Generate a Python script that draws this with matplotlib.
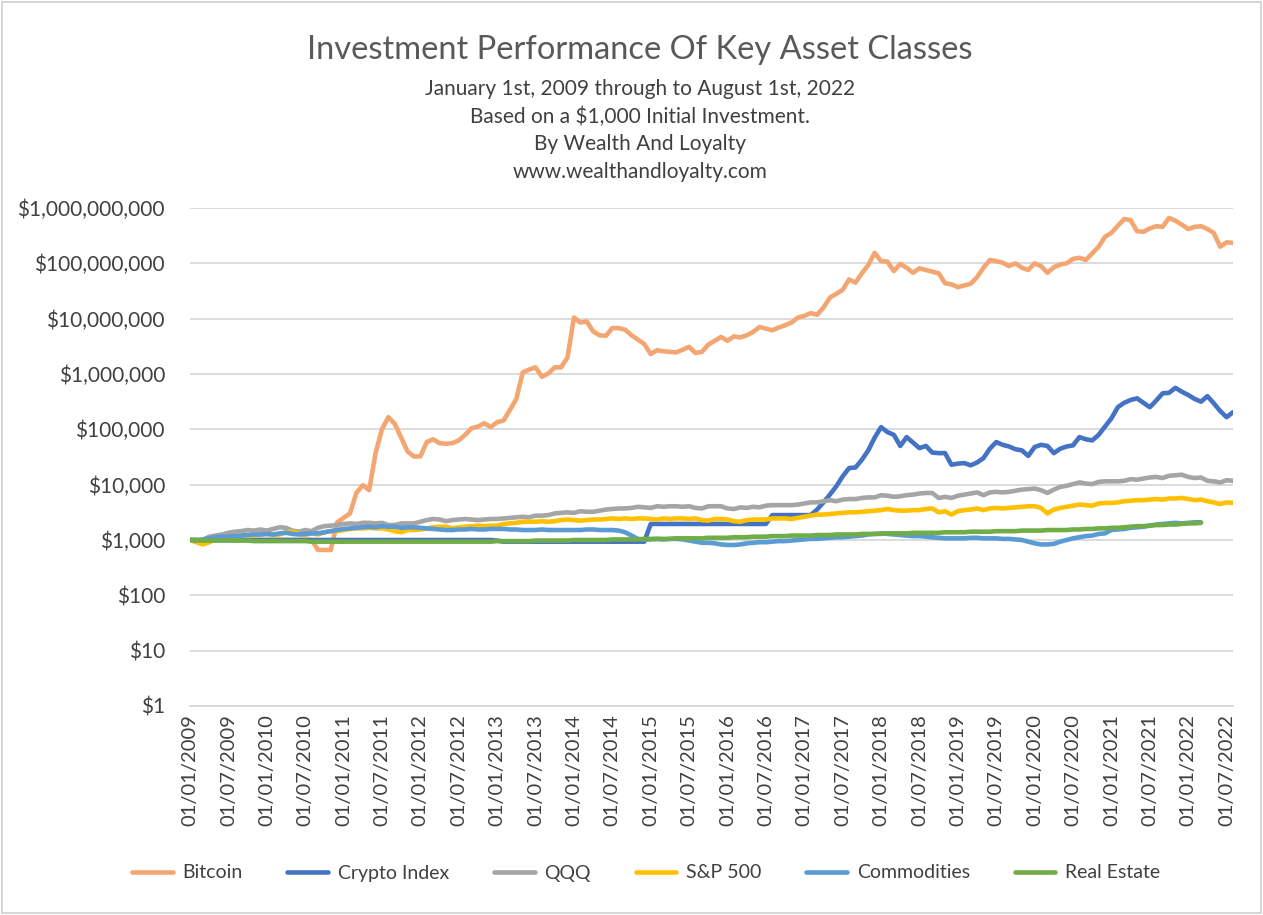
import numpy as np
import matplotlib
matplotlib.use("Agg")
import matplotlib.pyplot as plt
from matplotlib.patches import Rectangle

plt.rcParams['font.family'] = ['Lato', 'DejaVu Sans']

# ---- data (log10 of portfolio value in $, monthly from Jan 2009) ----
bitcoin_log10 = [
    3.00, 3.00, 3.00, 3.00, 3.00, 3.00, 3.00, 3.00, 3.00, 3.00, 3.00, 3.00,
    3.00, 3.00, 3.00, 3.00, 3.00, 3.00, 3.00, 3.00, 2.82, 2.82, 2.82, 3.32,
    3.40, 3.48, 3.85, 3.99, 3.90, 4.57, 5.00, 5.22, 5.10, 4.85, 4.60, 4.51,
    4.51, 4.77, 4.82, 4.75, 4.74, 4.75, 4.80, 4.90, 5.02, 5.05, 5.11, 5.04,
    5.13, 5.16, 5.35, 5.55, 6.03, 6.08, 6.12, 5.95, 6.01, 6.12, 6.12, 6.30,
    7.02, 6.93, 6.95, 6.77, 6.70, 6.69, 6.83, 6.83, 6.80, 6.70, 6.62, 6.54,
    6.36, 6.43, 6.41, 6.40, 6.39, 6.44, 6.49, 6.38, 6.40, 6.53, 6.60, 6.67,
    6.60, 6.68, 6.66, 6.70, 6.76, 6.85, 6.82, 6.79, 6.84, 6.88, 6.93, 7.02,
    7.05, 7.10, 7.07, 7.20, 7.38, 7.45, 7.52, 7.71, 7.65, 7.82, 7.97, 8.19,
    8.04, 8.03, 7.86, 7.99, 7.92, 7.83, 7.91, 7.88, 7.85, 7.82, 7.64, 7.62,
    7.57, 7.60, 7.63, 7.75, 7.92, 8.06, 8.04, 8.01, 7.95, 8.00, 7.92, 7.88,
    8.00, 7.95, 7.83, 7.93, 7.98, 8.00, 8.08, 8.10, 8.06, 8.18, 8.30, 8.48,
    8.55, 8.68, 8.80, 8.78, 8.58, 8.57, 8.63, 8.67, 8.66, 8.82, 8.77, 8.70,
    8.62, 8.66, 8.67, 8.62, 8.55, 8.30, 8.38, 8.37,
]

crypto_index_log10 = [
    3.00, 3.00, 3.00, 3.00, 3.00, 3.00, 3.00, 3.00, 3.00, 3.00, 3.00, 3.00,
    3.00, 3.00, 3.00, 3.00, 3.00, 3.00, 3.00, 3.00, 3.00, 3.00, 3.00, 3.00,
    3.00, 3.00, 3.00, 3.00, 3.00, 3.00, 3.00, 3.00, 3.00, 3.00, 3.00, 3.00,
    3.00, 3.00, 3.00, 3.00, 3.00, 3.00, 3.00, 3.00, 3.00, 3.00, 3.00, 3.00,
    2.99, 2.97, 2.97, 2.97, 2.97, 2.97, 2.97, 2.97, 2.97, 2.97, 2.97, 2.97,
    2.97, 2.97, 2.97, 2.97, 2.97, 2.97, 2.97, 2.97, 2.97, 2.97, 2.97, 2.97,
    3.29, 3.29, 3.29, 3.29, 3.29, 3.29, 3.29, 3.29, 3.29, 3.29, 3.29, 3.29,
    3.29, 3.29, 3.29, 3.29, 3.29, 3.29, 3.29, 3.45, 3.45, 3.45, 3.45, 3.45,
    3.45, 3.45, 3.55, 3.68, 3.82, 3.97, 4.15, 4.30, 4.31, 4.45, 4.62, 4.85,
    5.04, 4.95, 4.90, 4.70, 4.86, 4.76, 4.66, 4.70, 4.58, 4.57, 4.57, 4.36,
    4.38, 4.39, 4.35, 4.40, 4.48, 4.65, 4.77, 4.72, 4.69, 4.64, 4.62, 4.52,
    4.68, 4.72, 4.70, 4.57, 4.65, 4.69, 4.71, 4.86, 4.82, 4.80, 4.90, 5.05,
    5.20, 5.40, 5.48, 5.53, 5.56, 5.48, 5.40, 5.52, 5.65, 5.66, 5.75, 5.68,
    5.62, 5.55, 5.50, 5.60, 5.47, 5.33, 5.22, 5.31,
]

qqq_log10 = [
    3.00, 2.97, 3.00, 3.06, 3.08, 3.10, 3.13, 3.15, 3.16, 3.18, 3.17, 3.19,
    3.17, 3.20, 3.23, 3.22, 3.17, 3.15, 3.18, 3.16, 3.22, 3.25, 3.26, 3.27,
    3.29, 3.30, 3.29, 3.31, 3.31, 3.30, 3.31, 3.27, 3.27, 3.30, 3.30, 3.30,
    3.33, 3.36, 3.38, 3.37, 3.34, 3.36, 3.37, 3.38, 3.37, 3.36, 3.37, 3.38,
    3.38, 3.39, 3.40, 3.41, 3.42, 3.41, 3.44, 3.44, 3.45, 3.48, 3.49, 3.50,
    3.49, 3.52, 3.51, 3.51, 3.53, 3.55, 3.56, 3.57, 3.57, 3.58, 3.60, 3.59,
    3.58, 3.61, 3.60, 3.61, 3.61, 3.60, 3.61, 3.58, 3.57, 3.61, 3.61, 3.61,
    3.57, 3.56, 3.59, 3.58, 3.60, 3.59, 3.62, 3.63, 3.63, 3.63, 3.63, 3.64,
    3.66, 3.68, 3.68, 3.70, 3.72, 3.70, 3.73, 3.74, 3.74, 3.76, 3.77, 3.77,
    3.81, 3.80, 3.78, 3.79, 3.81, 3.82, 3.84, 3.85, 3.85, 3.76, 3.78, 3.76,
    3.80, 3.82, 3.84, 3.86, 3.81, 3.86, 3.87, 3.86, 3.87, 3.89, 3.91, 3.92,
    3.93, 3.90, 3.85, 3.91, 3.96, 3.98, 4.01, 4.04, 4.02, 4.01, 4.05, 4.06,
    4.06, 4.06, 4.07, 4.10, 4.09, 4.11, 4.13, 4.14, 4.12, 4.16, 4.17, 4.18,
    4.14, 4.12, 4.13, 4.07, 4.06, 4.04, 4.08, 4.07,
]

sp500_log10 = [
    3.00, 2.96, 2.92, 2.96, 3.01, 3.03, 3.03, 3.06, 3.08, 3.09, 3.08, 3.10,
    3.11, 3.09, 3.10, 3.14, 3.15, 3.11, 3.09, 3.12, 3.10, 3.14, 3.16, 3.16,
    3.18, 3.20, 3.21, 3.21, 3.22, 3.21, 3.21, 3.19, 3.16, 3.14, 3.18, 3.18,
    3.19, 3.21, 3.23, 3.24, 3.24, 3.21, 3.23, 3.24, 3.25, 3.26, 3.25, 3.26,
    3.26, 3.29, 3.30, 3.31, 3.33, 3.33, 3.33, 3.34, 3.33, 3.34, 3.36, 3.37,
    3.36, 3.35, 3.36, 3.37, 3.37, 3.38, 3.39, 3.38, 3.39, 3.38, 3.39, 3.39,
    3.38, 3.37, 3.39, 3.38, 3.39, 3.39, 3.38, 3.39, 3.36, 3.35, 3.38, 3.38,
    3.37, 3.34, 3.33, 3.36, 3.37, 3.37, 3.37, 3.39, 3.39, 3.39, 3.38, 3.40,
    3.42, 3.44, 3.46, 3.46, 3.47, 3.48, 3.49, 3.50, 3.50, 3.51, 3.52, 3.53,
    3.54, 3.56, 3.54, 3.53, 3.53, 3.54, 3.54, 3.56, 3.57, 3.50, 3.52, 3.46,
    3.52, 3.54, 3.55, 3.57, 3.54, 3.57, 3.58, 3.57, 3.58, 3.59, 3.60, 3.61,
    3.61, 3.58, 3.48, 3.55, 3.58, 3.60, 3.62, 3.64, 3.63, 3.62, 3.66, 3.67,
    3.67, 3.68, 3.70, 3.71, 3.72, 3.72, 3.73, 3.74, 3.73, 3.75, 3.75, 3.76,
    3.74, 3.72, 3.73, 3.70, 3.68, 3.65, 3.68, 3.67,
]

commodities_log10 = [
    3.00, 2.99, 3.01, 3.03, 3.05, 3.06, 3.06, 3.07, 3.08, 3.09, 3.10, 3.10,
    3.11, 3.10, 3.12, 3.13, 3.11, 3.10, 3.11, 3.12, 3.12, 3.14, 3.16, 3.18,
    3.20, 3.21, 3.22, 3.23, 3.24, 3.23, 3.25, 3.24, 3.24, 3.22, 3.23, 3.23,
    3.22, 3.21, 3.20, 3.19, 3.18, 3.18, 3.19, 3.19, 3.20, 3.19, 3.19, 3.20,
    3.20, 3.20, 3.19, 3.19, 3.18, 3.18, 3.18, 3.19, 3.18, 3.18, 3.18, 3.18,
    3.18, 3.18, 3.19, 3.19, 3.18, 3.18, 3.18, 3.17, 3.14, 3.08, 3.02, 3.01,
    3.01, 3.02, 3.01, 3.02, 3.02, 3.01, 2.99, 2.97, 2.95, 2.95, 2.94, 2.92,
    2.91, 2.91, 2.92, 2.94, 2.95, 2.96, 2.96, 2.97, 2.98, 2.98, 2.99, 3.00,
    3.01, 3.02, 3.02, 3.03, 3.04, 3.05, 3.05, 3.06, 3.07, 3.08, 3.10, 3.11,
    3.12, 3.11, 3.10, 3.09, 3.08, 3.07, 3.07, 3.06, 3.05, 3.04, 3.03, 3.03,
    3.03, 3.03, 3.04, 3.04, 3.03, 3.03, 3.03, 3.02, 3.02, 3.01, 3.00, 2.97,
    2.94, 2.92, 2.92, 2.93, 2.97, 3.00, 3.03, 3.05, 3.07, 3.08, 3.11, 3.12,
    3.18, 3.19, 3.20, 3.22, 3.23, 3.24, 3.26, 3.28, 3.29, 3.30, 3.31, 3.30,
    3.31, 3.32, 3.32,
]

real_estate_log10 = [
    3.00, 3.00, 2.99, 2.99, 2.99, 2.99, 2.99, 2.99, 2.99, 2.99, 2.98, 2.98,
    2.98, 2.98, 2.98, 2.98, 2.98, 2.98, 2.98, 2.97, 2.97, 2.97, 2.97, 2.97,
    2.97, 2.97, 2.97, 2.97, 2.97, 2.97, 2.97, 2.97, 2.97, 2.97, 2.97, 2.97,
    2.97, 2.97, 2.97, 2.97, 2.97, 2.97, 2.97, 2.97, 2.97, 2.97, 2.97, 2.97,
    2.98, 2.98, 2.98, 2.98, 2.98, 2.98, 2.99, 2.99, 2.99, 2.99, 2.99, 2.99,
    3.00, 3.00, 3.00, 3.00, 3.00, 3.00, 3.01, 3.01, 3.01, 3.01, 3.01, 3.02,
    3.02, 3.02, 3.02, 3.02, 3.03, 3.03, 3.03, 3.03, 3.03, 3.04, 3.04, 3.04,
    3.04, 3.05, 3.05, 3.05, 3.06, 3.06, 3.06, 3.07, 3.07, 3.07, 3.08, 3.08,
    3.08, 3.08, 3.09, 3.09, 3.09, 3.10, 3.10, 3.10, 3.10, 3.11, 3.11, 3.11,
    3.11, 3.12, 3.12, 3.12, 3.12, 3.13, 3.13, 3.13, 3.13, 3.13, 3.14, 3.14,
    3.14, 3.14, 3.15, 3.15, 3.15, 3.15, 3.16, 3.16, 3.16, 3.16, 3.17, 3.17,
    3.17, 3.17, 3.18, 3.18, 3.18, 3.18, 3.19, 3.19, 3.20, 3.20, 3.21, 3.21,
    3.22, 3.22, 3.23, 3.24, 3.25, 3.25, 3.26, 3.27, 3.27, 3.28, 3.28, 3.29,
    3.30, 3.30, 3.31,
]

series_names = ["Bitcoin", "Crypto Index", "QQQ", "S&P 500", "Commodities", "Real Estate"]
series_colors = ["#F4A672", "#4472C4", "#A5A5A5", "#FFC000", "#5B9BD5", "#70AD47"]
series_data = [bitcoin_log10, crypto_index_log10, qqq_log10, sp500_log10,
               commodities_log10, real_estate_log10]

x_tick_labels = []
for yr in range(2009, 2023):
    x_tick_labels += [f"01/01/{yr}", f"01/07/{yr}"]
y_tick_values = [1, 10, 100, 1000, 10_000, 100_000, 1_000_000, 10_000_000,
                 100_000_000, 1_000_000_000]
y_tick_labels = ["$1", "$10", "$100", "$1,000", "$10,000", "$100,000",
                 "$1,000,000", "$10,000,000", "$100,000,000", "$1,000,000,000"]

title = "Investment Performance Of Key Asset Classes"
subtitle_lines = ["January 1st, 2009 through to August 1st, 2022",
                  "Based on a $1,000 Initial Investment.",
                  "By Wealth And Loyalty",
                  "www.wealthandloyalty.com"]

# ---- figure ----
W, H = 1263, 915
fig = plt.figure(figsize=(W / 100, H / 100), dpi=100)
fig.patch.set_facecolor("white")
fig.patches.append(Rectangle((2 / W, 2 / H), 1 - 4 / W, 1 - 4 / H,
                             transform=fig.transFigure, fill=False,
                             edgecolor="#D0D0D0", linewidth=1.2))

ax = fig.add_axes([190 / W, 1 - 706 / H, (1233 - 190) / W, (706 - 208) / H])

for name, color, vals in zip(series_names, series_colors, series_data):
    vals = np.power(10.0, np.array(vals))
    months = np.arange(len(vals))
    ax.plot(months, vals, color=color, lw=3.3, label=name,
            solid_joinstyle="round", solid_capstyle="round")

ax.set_yscale("log")
ax.set_ylim(1, 1e9)
ax.set_xlim(0, len(bitcoin_log10) - 1)
ax.set_yticks(y_tick_values)
ax.set_yticklabels(y_tick_labels)
ax.yaxis.set_minor_locator(matplotlib.ticker.NullLocator())
ax.set_xticks(np.arange(0, 6 * len(x_tick_labels), 6))
ax.set_xticklabels(x_tick_labels, rotation=90)
ax.tick_params(axis="y", length=0, pad=18, labelsize=15, labelcolor="#404040")
ax.tick_params(axis="x", length=0, pad=6, labelsize=14.5, labelcolor="#404040")
ax.grid(axis="y", color="#D9D9D9", lw=1.3)
ax.set_axisbelow(True)
for s in ["top", "right", "left"]:
    ax.spines[s].set_visible(False)
ax.spines["bottom"].set_color("#D9D9D9")
ax.spines["bottom"].set_linewidth(1.3)

fig.text(640 / W, 1 - 50 / H, title, ha="center", va="center",
         fontsize=23.5, color="#595959")
for i, line in enumerate(subtitle_lines):
    fig.text(640 / W, 1 - (89 + i * 27.5) / H, line, ha="center", va="center",
             fontsize=15, color="#404040")

handles, labels = ax.get_legend_handles_labels()
fig.legend(handles, labels, loc="center", bbox_to_anchor=(646 / W, 1 - 873 / H),
           ncol=6, frameon=False, fontsize=14, handlelength=2.1,
           columnspacing=2.3, handletextpad=0.5, labelcolor="#404040")

fig.savefig("out.png", dpi=100)
